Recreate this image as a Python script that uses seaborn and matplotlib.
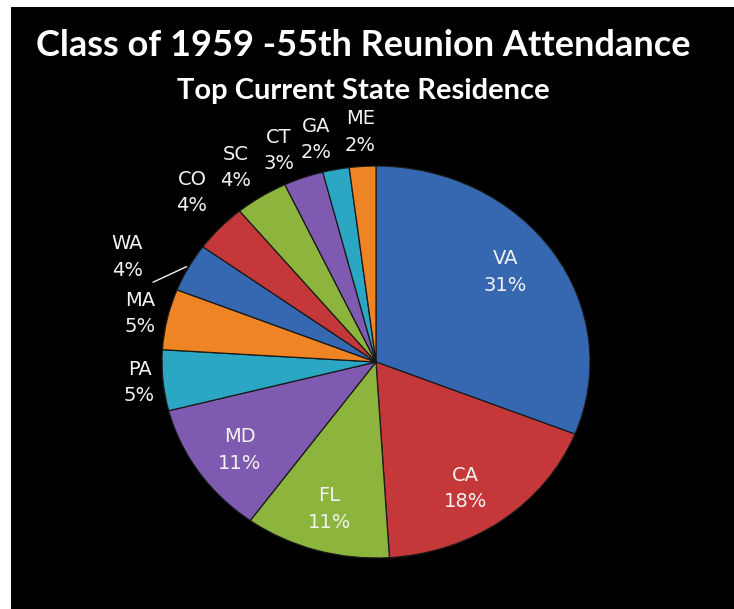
"""
plot.py
Pie chart: Class of 1959 - 55th reunion attendance by state of residence.
"""

import numpy as np
import matplotlib
matplotlib.use("Agg")
import matplotlib.pyplot as plt
from matplotlib.patches import Rectangle
import seaborn as sns

# data
states = ["VA", "CA", "FL", "MD", "PA", "MA", "WA", "CO", "SC", "CT", "GA", "ME"]
shares = [31, 18, 11, 11, 5, 5, 4, 4, 4, 3, 2, 2]

# Office-style palette, repeating
base_colors = ["#3568B0", "#C4383A", "#8DB43C", "#7E5AB0", "#2BA6C3", "#EE8424"]
colors = [base_colors[i % len(base_colors)] for i in range(len(states))]

# label placement (fraction of radius) and small angle nudges
label_radius = [0.76, 0.77, 0.78, 0.78, 1.11, 1.13, 1.28, 1.22, 1.19, 1.17, 1.17, 1.175]
label_nudge = [3, -3, 0, 1, 0, 0, 4, -2, 1, 3, 3, 0]

sns.set_theme(style="dark")
plt.rcParams["font.family"] = ["DejaVu Sans"]

W, H = 734, 609
fig = plt.figure(figsize=(W / 100, H / 100), dpi=100)
fig.patch.set_facecolor("white")
fig.add_artist(Rectangle((11 / W, 0), 1 - 11 / W, (H - 7) / H,
                         transform=fig.transFigure, facecolor="black",
                         edgecolor="none", zorder=0))

# axes placed in pixels (top-origin), pie radius 214 px wide, 196 px tall
cx, cy, rx, ry = 376, 362, 214, 196
half_w, half_h = 276, 242
ax = fig.add_axes([(cx - half_w) / W, (H - cy - half_h) / H,
                   2 * half_w / W, 2 * half_h / H])
ax.set_facecolor("none")

wedges, _ = ax.pie(shares, colors=colors, startangle=90, counterclock=False,
                   wedgeprops=dict(edgecolor="#1a1a1a", linewidth=0.9))
ax.set_aspect("auto")
ax.set_xlim(-half_w / rx, half_w / rx)
ax.set_ylim(-half_h / ry, half_h / ry)
ax.axis("off")

for w, name, val, r, nudge in zip(wedges, states, shares, label_radius, label_nudge):
    ang = np.deg2rad((w.theta1 + w.theta2) / 2 + nudge)
    x, y = r * np.cos(ang), r * np.sin(ang)
    ax.text(x, y, f"{name}\n{val}%", ha="center", va="center",
            color="#F2F2F2", fontsize=14, linespacing=1.5)
    if name == "WA":
        mid = np.deg2rad((w.theta1 + w.theta2) / 2)
        ax.plot([x + 0.12, 1.01 * np.cos(mid)], [y - 0.13, 1.01 * np.sin(mid)],
                color="#F2F2F2", lw=1)

fig.text(363 / W, 1 - 46 / H, "Class of 1959 -55th Reunion Attendance",
         ha="center", va="center", color="white", fontsize=26,
         fontweight="bold", family=["Lato", "DejaVu Sans"])
fig.text(363 / W, 1 - 91 / H, "Top Current State Residence",
         ha="center", va="center", color="white", fontsize=21,
         fontweight="bold", family=["Lato", "DejaVu Sans"])

fig.savefig("out.png", dpi=100, facecolor=fig.get_facecolor())
